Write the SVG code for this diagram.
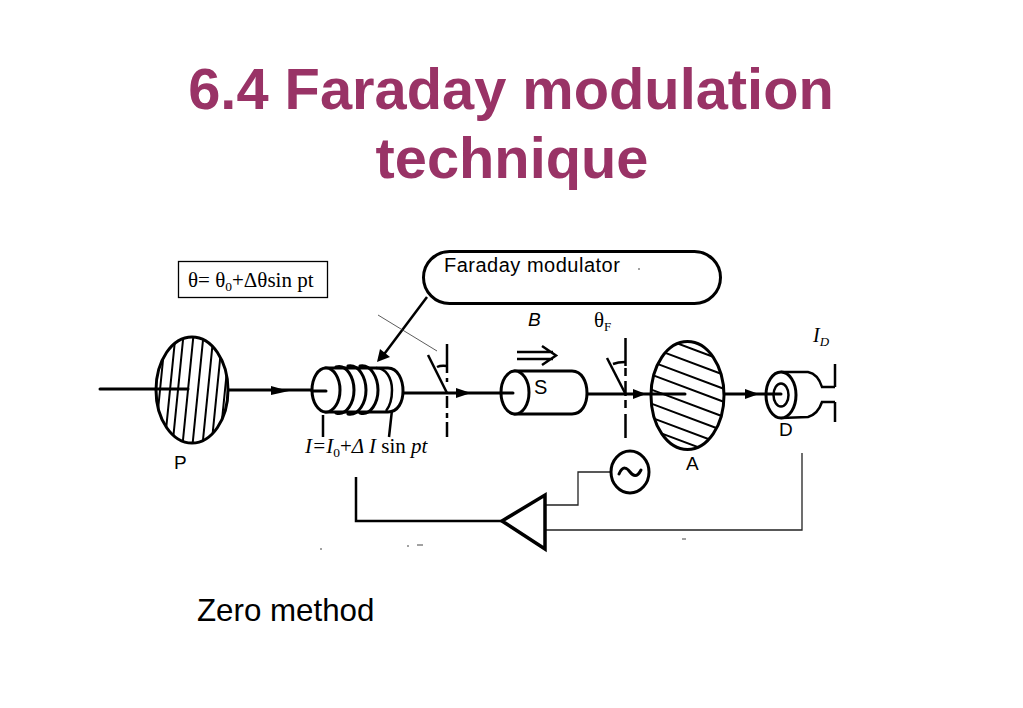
<svg xmlns="http://www.w3.org/2000/svg" width="1023" height="708" viewBox="0 0 1023 708">
<style>
.s{font-family:"Liberation Sans",Arial,sans-serif;fill:#000}
.t{font-family:"Liberation Serif","Times New Roman",serif;fill:#000}
.title{font-family:"Liberation Sans",Arial,sans-serif;font-weight:700;font-size:57.800px;fill:#993366;text-anchor:middle}
.k{fill:none;stroke:#000;stroke-width:3;stroke-linecap:round;stroke-linejoin:round}
.m{fill:none;stroke:#000;stroke-width:2.500}
.n{fill:none;stroke:#222;stroke-width:1.300}
.h{stroke:#000;stroke-width:2;fill:none}
.w{fill:#fff;stroke:#000;stroke-width:3}
.head{fill:#000}
.sp{fill:none;stroke:#444;stroke-width:1}
</style>
<defs>
<clipPath id="cp"><ellipse cx="192" cy="390" rx="36" ry="53"/></clipPath>
<clipPath id="ca"><ellipse cx="687.5" cy="395.5" rx="36.5" ry="54"/></clipPath>
</defs>
<rect width="1023" height="708" fill="#fff"/>
<g id="title">
<text class="title" x="511" y="109">6.4 Faraday modulation</text>
<text class="title" x="512" y="178">technique</text>
</g>
<g id="formula-box">
<rect x="178.500" y="261.500" width="149" height="36" fill="#fff" stroke="#000" stroke-width="1.300"/>
<text class="t" x="188" y="287" font-size="21">θ= θ<tspan font-size="13.500" dy="4">0</tspan><tspan dy="-4">+Δθsin pt</tspan></text>
</g>
<g id="connectors">
<path class="k" d="M100 389H188"/>
<path class="k" d="M228 390H326"/>
<path class="head" d="M271 386L289 391L271 395Z"/>
<path class="k" d="M403 393H500"/>
<path class="head" d="M456 388L471 393L456 398Z"/>
<path class="k" d="M587 394H652"/>
<path class="head" d="M633 389L646 394L633 399Z"/>
<path class="k" d="M724 394H775"/>
<path class="head" d="M745 389L759 394L745 399Z"/>
<path class="m" d="M427 297L382 357"/>
<path class="head" d="M377 362L380 349L390 357Z"/>
<path fill="none" stroke="#333" stroke-width="0.800" d="M378 315L437 351"/>
<path class="m" d="M356 477V521H502"/>
<path class="n" d="M610 472H578V505H545"/>
<path class="n" d="M802 453V530H545"/>
<path class="m" d="M323 415V437M392 410L389 437"/>
</g>
<g id="polarizer">
<ellipse class="w" cx="192" cy="390" rx="36" ry="53"/>
<g clip-path="url(#cp)">
<path class="h" d="M166 330L154 450M176 330L164 450M184 330L172 450M194 330L182 450M204 330L192 450M214 330L202 450M223 330L211 450M231 330L219 450"/>
</g>
<path class="k" d="M156 389H188"/>
</g>
<g id="coil">
<path class="w" d="M326 368H388C398 368 403 380 403 391C403 402 398 412 388 412H326Z"/>
<path class="k" d="M336 367C347 364 354 378 354 390C354 402 347 416 336 413"/>
<path class="k" d="M348 366C359 364 366 378 366 390C366 402 359 416 348 414"/>
<path class="k" d="M360 366C371 364 378 378 378 390C378 402 371 416 360 413"/>
<path class="m" stroke-width="2" d="M376 368C386 368 392 378 392 390C392 400 390 406 386 411"/>
<ellipse class="w" cx="326" cy="390" rx="14" ry="22"/>
<path class="k" d="M312 391H326"/>
</g>
<g id="angle-1">
<path class="m" d="M447 344V373M447 378V382M447 396V408M447 413V418M447 422V437"/>
<path class="m" d="M428 355L447 393"/>
<path class="m" stroke-width="1.500" d="M437 367Q441 365 447 366"/>
</g>
<g id="sample">
<path class="w" d="M515 371H572C582 371 587 382 587 393C587 404 582 414 572 414H515Z"/>
<ellipse class="w" cx="515" cy="392.500" rx="14" ry="21.500"/>
<path class="k" d="M501 393H513"/>
<text class="s" x="534" y="393.500" font-size="20">S</text>
</g>
<g id="field-arrow">
<path class="m" d="M517 352H553M517 359H553M542 346L556 355.500L542 365"/>
<text class="s" x="528" y="326" font-size="19" font-style="italic">B</text>
</g>
<g id="angle-2">
<path class="m" d="M625.500 338V366M625.500 368V376M625.500 381V396M625.500 400V408M625.500 414V438"/>
<path class="m" d="M607 358L625 393"/>
<path class="m" stroke-width="1.500" d="M613 364Q618 362 625 362"/>
<text class="t" x="594" y="327" font-size="21">θ<tspan font-size="13" dy="4">F</tspan></text>
</g>
<g id="analyzer">
<ellipse class="w" cx="687.500" cy="395.500" rx="36.500" ry="54"/>
<g clip-path="url(#ca)">
<path class="h" d="M639 329L735 365M639 343L735 379M639 357L735 393M639 370L735 406M639 385L735 421M639 399L735 435M639 413L735 449M639 425L735 461"/>
</g>
<path class="k" d="M652 394H685"/>
<text class="s" x="686" y="470" font-size="19">A</text>
</g>
<g id="detector">
<path class="m" stroke-width="3" d="M781 372H808Q818 374 822 387H835M835 402H822Q818 414 808 417L781 418"/>
<path class="m" d="M835 364V387M835 402V422"/>
<ellipse class="w" cx="781" cy="395" rx="15" ry="23"/>
<ellipse class="m" stroke-width="3" cx="781" cy="395" rx="7.500" ry="11.500"/>
<path class="k" d="M766 394H781"/>
<text class="s" x="779" y="436" font-size="19">D</text>
<text class="t" x="813" y="342" font-size="20" font-style="italic">I<tspan font-size="13" dy="4">D</tspan></text>
</g>
<g id="faraday-modulator">
<rect class="w" x="423.500" y="251.500" width="297" height="52" rx="26" ry="26"/>
<text class="s" x="444" y="272" font-size="20" letter-spacing="0.500">Faraday modulator</text>
</g>
<g id="current-label">
<text class="t" x="305" y="453" font-size="21" font-style="italic">I=I<tspan font-size="13.500" dy="4" font-style="normal">0</tspan><tspan dy="-4" font-style="normal">+</tspan>Δ I <tspan font-style="normal">sin</tspan> pt</text>
</g>
<g id="P-label"><text class="s" x="174" y="469" font-size="19">P</text></g>
<g id="oscillator">
<ellipse cx="630" cy="472" rx="19" ry="21" fill="#fff" stroke="#000" stroke-width="3"/>
<path class="k" d="M619 474C623 465 627 468 630 472C633 476 637 478 641 470"/>
</g>
<g id="amplifier">
<path d="M502 521L545 495V549Z" fill="#fff" stroke="#000" stroke-width="3.500"/>
</g>
<g id="specks">
<path class="sp" d="M407 546H409M417 545H423M321 548V550M682 539H686M638 269H640"/>
</g>
<g id="zero-method"><text class="s" x="197" y="621" font-size="31.300">Zero method</text></g>
</svg>
